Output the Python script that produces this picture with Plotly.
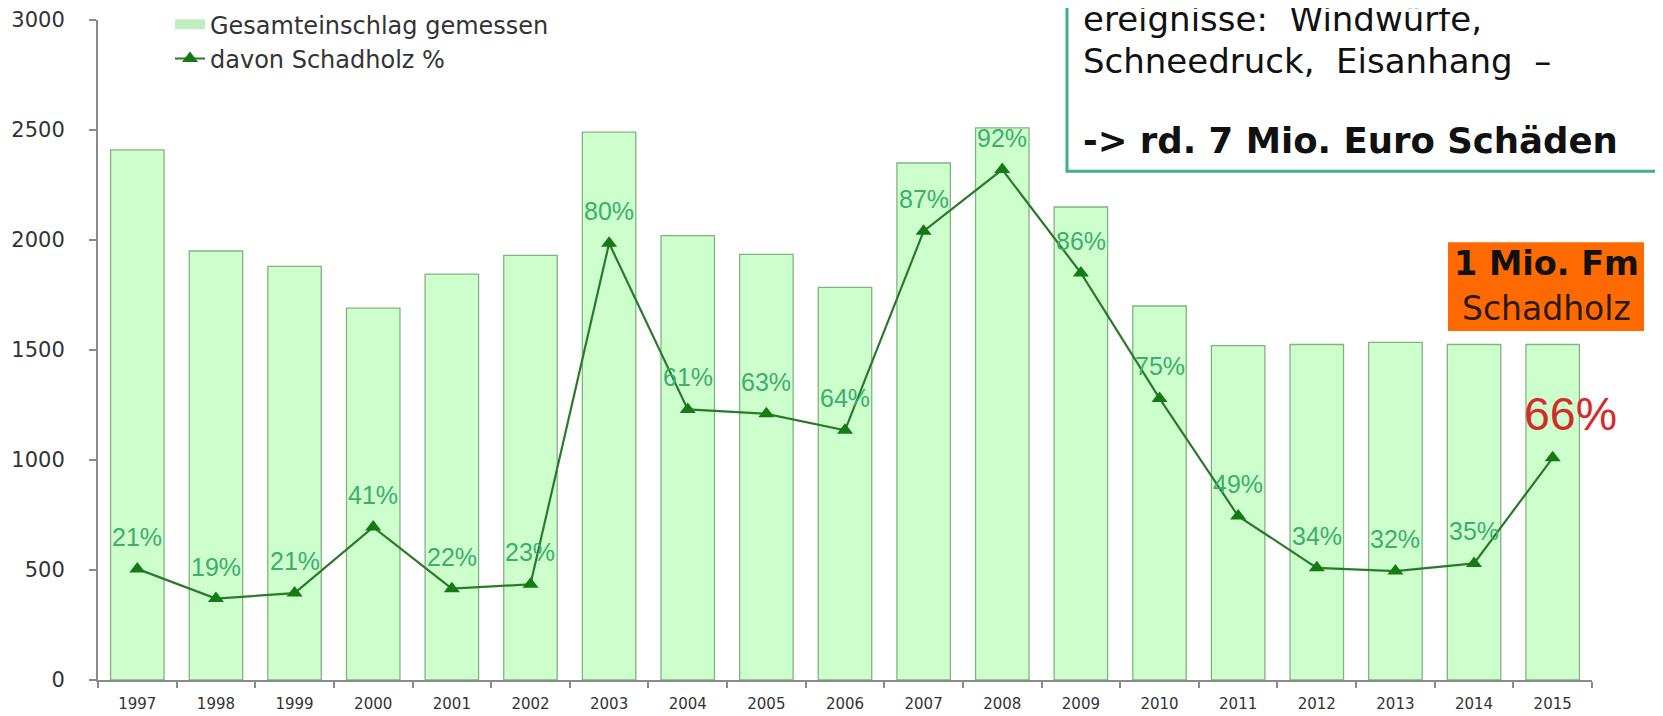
import plotly.graph_objects as go

# ---- data ----
years = [str(y) for y in range(1997, 2016)]
gesamteinschlag = [2410, 1950, 1880, 1690, 1845, 1930, 2490, 2020, 1935, 1785,
                   2350, 2510, 2150, 1700, 1520, 1525, 1535, 1525, 1525]
schadholz = [505, 370, 395, 695, 415, 435, 1985, 1230, 1210, 1135,
             2040, 2320, 1850, 1280, 745, 510, 495, 530, 1010]
pct_labels = ["21%", "19%", "21%", "41%", "22%", "23%", "80%", "61%", "63%", "64%",
              "87%", "92%", "86%", "75%", "49%", "34%", "32%", "35%", "66%"]
y_ticks = [0, 500, 1000, 1500, 2000, 2500, 3000]

W, H = 1663, 716
L, R, T, B = 90, 79, 11.5, 43.5
PW, PH = W - L - R, H - T - B


def px(x):
    return (x - L) / PW


def py(y):
    return (H - B - y) / PH


fig = go.Figure()
# legend stand-in for the bar series (wide light-green swatch like the original)
fig.add_trace(go.Scatter(
    x=[None], y=[None], name="Gesamteinschlag gemessen", mode="lines",
    line=dict(color="#bfeebf", width=12), hoverinfo="skip",
))
fig.add_trace(go.Bar(
    x=years, y=gesamteinschlag, name="Gesamteinschlag gemessen", showlegend=False,
    marker=dict(color="#ccffcc", line=dict(color="#84b184", width=1.3)),
))
fig.add_trace(go.Scatter(
    x=years, y=schadholz, name="davon Schadholz %", mode="lines+markers",
    line=dict(color="#2a7a2a", width=2.2),
    marker=dict(symbol="triangle-up", size=14, color="#157a15"),
))

annotations = []
n = len(years)
for i, (v, lab) in enumerate(zip(schadholz, pct_labels)):
    if i == n - 1:
        annotations.append(dict(x=i, y=v, text=lab, showarrow=False,
                                xshift=18, yshift=44,
                                font=dict(family="Liberation Sans, Arial", size=46.5, color="#d42a2a")))
    else:
        annotations.append(dict(x=i, y=v, text=lab, showarrow=False, yshift=32,
                                font=dict(family="Liberation Sans, Arial", size=25, color="#3dae6c")))

# text box at top right
box_font = "DejaVu Sans, Verdana, sans-serif"
annotations += [
    dict(xref="paper", yref="paper", x=px(1073), y=py(10), xanchor="left", yanchor="middle",
         text="ereignisse:  Windwürfe,", showarrow=False,
         font=dict(family=box_font, size=34, color="#111111")),
    dict(xref="paper", yref="paper", x=px(1073), y=py(53), xanchor="left", yanchor="middle",
         text="Schneedruck,  Eisanhang  –", showarrow=False,
         font=dict(family=box_font, size=34, color="#111111")),
    dict(xref="paper", yref="paper", x=px(1073), y=py(132), xanchor="left", yanchor="middle",
         text="<b>-> rd. 7 Mio. Euro Schäden</b>", showarrow=False,
         font=dict(family=box_font, size=35.5, color="#111111")),
    dict(xref="paper", yref="paper", x=px(1538), y=py(255), xanchor="center", yanchor="middle",
         text="<b>1 Mio. Fm</b>", showarrow=False,
         font=dict(family=box_font, size=33.5, color="#111111")),
    dict(xref="paper", yref="paper", x=px(1538), y=py(300), xanchor="center", yanchor="middle",
         text="Schadholz", showarrow=False,
         font=dict(family=box_font, size=33, color="#2a1a10")),
]

shapes = [
    dict(type="rect", xref="paper", yref="paper", x0=px(1059), x1=px(1700), y0=py(163), y1=py(-20),
         line=dict(color="#3fae8a", width=3), fillcolor="white", layer="above"),
    dict(type="rect", xref="paper", yref="paper", x0=px(1440), x1=px(1636), y0=py(323), y1=py(234),
         line=dict(color="#ff6a00", width=0), fillcolor="#ff6a00", layer="above"),
]

fig.update_layout(
    width=W, height=H,
    margin=dict(l=L, r=R, t=T, b=B, autoexpand=False),
    paper_bgcolor="white", plot_bgcolor="white",
    bargap=0.32,
    showlegend=True,
    legend=dict(x=px(162), y=1.027, xanchor="left", yanchor="top",
                bgcolor="rgba(0,0,0,0)", itemwidth=30, tracegroupgap=0,
                font=dict(family="DejaVu Sans, Verdana, sans-serif", size=24, color="#333333")),
    annotations=annotations,
    shapes=shapes,
    xaxis=dict(type="category", range=[-0.5, n - 0.5], autorange=False, automargin=False,
               showgrid=False, showline=True, linecolor="#8a8a8a", linewidth=2,
               ticks="outside", tickson="boundaries", ticklen=6, tickcolor="#8a8a8a", tickwidth=2,
               tickangle=0, ticklabelstandoff=9,
               tickfont=dict(family="DejaVu Sans, Verdana, sans-serif", size=15, color="#333333")),
    yaxis=dict(range=[0, 3000], autorange=False, automargin=False, tickvals=y_ticks,
               showgrid=False, showline=True,
               linecolor="#8a8a8a", linewidth=2, ticks="outside", ticklen=7,
               tickcolor="#8a8a8a", tickwidth=2, zeroline=False, ticklabelstandoff=20,
               tickfont=dict(family="DejaVu Sans, Verdana, sans-serif", size=21, color="#333333")),
)

fig.write_html("out.html")
